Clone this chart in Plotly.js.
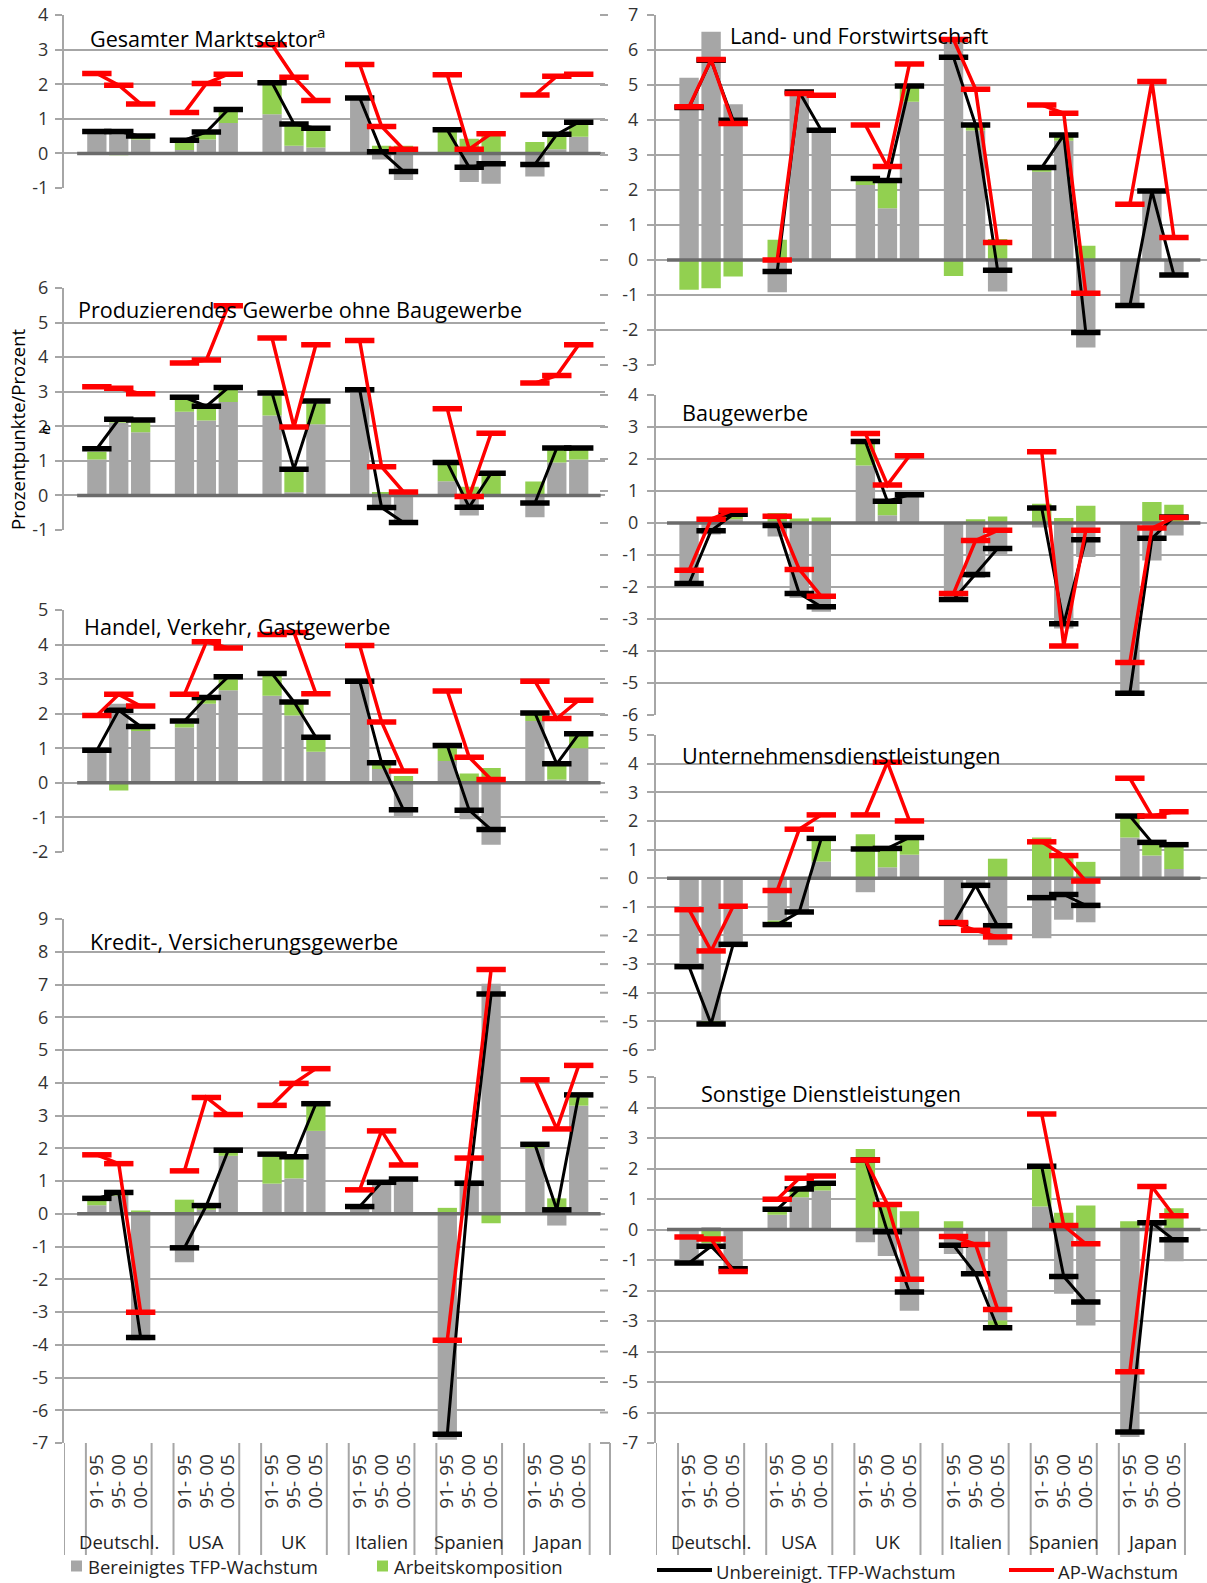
<!DOCTYPE html>
<html><head><meta charset="utf-8">
<script src="https://cdn.plot.ly/plotly-3.0.1.min.js"></script>
<style>html,body{margin:0;padding:0;background:#fff}#chart{width:1207px;height:1583px}</style>
</head><body><div id="chart"></div>
<script>
// ---------- DATA ----------
const countries = ["Deutschl.", "USA", "UK", "Italien", "Spanien", "Japan"];
const periods = ["91- 95", "95- 00", "00- 05"];
const seriesNames = ["Bereinigtes TFP-Wachstum", "Arbeitskomposition", "Unbereinigt. TFP-Wachstum", "AP-Wachstum"];

// Gesamter Marktsektor
const gesamtBereinigt   = [0.58,0.62,0.40, 0.10,0.40,0.88, 1.13,0.22,0.17, 1.55,-0.18,-0.77, 0.02,-0.83,-0.88, -0.67,0.12,0.48];
const gesamtArbeit      = [0.05,-0.05,0.08, 0.25,0.20,0.37, 0.88,0.60,0.53, 0.04,0.22,0.22, 0.63,0.42,0.52, 0.33,0.40,0.37];
const gesamtUnbereinigt = [0.63,0.63,0.50, 0.38,0.62,1.27, 2.04,0.85,0.73, 1.60,0.05,-0.52, 0.68,-0.40,-0.30, -0.32,0.55,0.90];
const gesamtAP          = [2.31,1.97,1.43, 1.18,2.02,2.29, 3.14,2.20,1.53, 2.57,0.78,0.12, 2.27,0.12,0.57, 1.69,2.23,2.29];

// Produzierendes Gewerbe ohne Baugewerbe
const prodBereinigt   = [1.04,2.10,1.83, 2.42,2.17,2.70, 2.31,0.09,2.06, 3.03,-0.42,-0.85, 0.41,-0.58,0.02, -0.63,0.95,1.04];
const prodArbeit      = [0.22,0.06,0.30, 0.38,0.33,0.35, 0.58,0.60,0.60, 0.00,0.10,0.04, 0.49,0.25,0.58, 0.40,0.37,0.30];
const prodUnbereinigt = [1.35,2.20,2.18, 2.84,2.58,3.12, 2.96,0.76,2.73, 3.06,-0.35,-0.78, 0.95,-0.34,0.64, -0.22,1.37,1.37];
const prodAP          = [3.14,3.10,2.94, 3.83,3.92,5.49, 4.55,1.98,4.36, 4.48,0.83,0.10, 2.51,-0.03,1.80, 3.25,3.47,4.36];

// Handel, Verkehr, Gastgewerbe
const handelBereinigt   = [0.88,2.29,1.50, 1.60,2.29,2.68, 2.52,1.95,0.90, 2.87,0.40,-0.99, 0.63,-1.05,-1.79, 1.79,0.10,1.00];
const handelArbeit      = [0.03,-0.22,0.10, 0.12,0.13,0.32, 0.58,0.35,0.38, 0.03,0.12,0.20, 0.42,0.27,0.43, 0.19,0.40,0.37];
const handelUnbereinigt = [0.94,2.10,1.63, 1.79,2.47,3.07, 3.16,2.34,1.32, 2.94,0.58,-0.78, 1.08,-0.79,-1.35, 2.02,0.55,1.42];
const handelAP          = [1.95,2.56,2.22, 2.56,4.08,3.90, 4.29,4.35,2.58, 3.97,1.76,0.34, 2.66,0.74,0.10, 2.94,1.86,2.39];

// Kredit-, Versicherungsgewerbe
const kreditBereinigt   = [0.26,0.55,-3.86, -1.48,0.12,1.77, 0.92,1.08,2.53, 0.15,0.92,1.02, -6.90,0.88,7.02, 2.00,-0.36,3.30];
const kreditArbeit      = [0.17,0.07,0.10, 0.43,0.12,0.16, 0.83,0.60,0.77, 0.06,0.03,0.03, 0.18,0.05,-0.29, 0.08,0.47,0.25];
const kreditUnbereinigt = [0.47,0.65,-3.78, -1.04,0.25,1.94, 1.82,1.74,3.36, 0.22,0.96,1.06, -6.73,0.93,6.71, 2.12,0.12,3.63];
const kreditAP          = [1.80,1.53,-3.01, 1.31,3.55,3.03, 3.31,3.98,4.43, 0.73,2.53,1.49, -3.86,1.70,7.46, 4.09,2.59,4.53];

// Land- und Forstwirtschaft
const landBereinigt   = [5.21,6.52,4.45, -0.92,4.78,3.64, 2.14,1.48,4.52, 6.30,3.70,-0.90, 2.52,3.41,-2.50, -1.29,1.97,-0.43];
const landArbeit      = [-0.85,-0.81,-0.47, 0.58,0.02,0.06, 0.17,0.75,0.40, -0.46,0.12,0.60, 0.08,0.12,0.41, 0.00,-0.02,0.00];
const landUnbereinigt = [4.36,5.71,3.99, -0.33,4.80,3.71, 2.33,2.27,4.97, 5.79,3.86,-0.29, 2.64,3.57,-2.07, -1.30,1.97,-0.43];
const landAP          = [4.38,5.73,3.90, 0.00,4.76,4.71, 3.86,2.67,5.60, 6.30,4.88,0.50, 4.43,4.19,-0.95, 1.59,5.10,0.64];

// Baugewerbe
const bauBereinigt   = [-1.98,-0.36,0.12, -0.42,-2.34,-2.77, 1.80,0.24,0.90, -2.42,-1.72,-0.99, -0.14,-3.30,-1.06, -5.38,-1.17,-0.39];
const bauArbeit      = [0.02,0.12,0.18, 0.31,0.14,0.17, 0.70,0.38,0.00, 0.02,0.12,0.20, 0.60,0.16,0.54, 0.02,0.66,0.57];
const bauUnbereinigt = [-1.89,-0.24,0.27, -0.08,-2.20,-2.62, 2.55,0.68,0.88, -2.39,-1.61,-0.80, 0.47,-3.15,-0.52, -5.32,-0.48,0.19];
const bauAP          = [-1.48,0.12,0.40, 0.21,-1.45,-2.29, 2.80,1.19,2.10, -2.20,-0.55,-0.23, 2.23,-3.84,-0.23, -4.36,-0.16,0.17];

// Unternehmensdienstleistungen
const untBereinigt   = [-3.03,-4.99,-2.24, -1.48,-1.20,0.58, -0.49,0.38,0.82, -1.58,-0.28,-2.34, -2.10,-1.45,-1.54, 1.42,0.79,0.32];
const untArbeit      = [-0.05,-0.10,-0.07, -0.10,0.00,0.75, 1.53,0.62,0.55, 0.00,0.02,0.68, 1.42,0.85,0.57, 0.70,0.43,0.80];
const untUnbereinigt = [-3.09,-5.09,-2.31, -1.62,-1.18,1.39, 1.02,1.04,1.42, -1.58,-0.25,-1.66, -0.68,-0.57,-0.95, 2.17,1.25,1.17];
const untAP          = [-1.10,-2.54,-0.98, -0.43,1.71,2.21, 2.21,4.05,2.00, -1.55,-1.82,-2.05, 1.27,0.79,-0.10, 3.49,2.17,2.32];

// Sonstige Dienstleistungen
const sonstBereinigt   = [-1.10,0.07,-1.34, 0.48,1.06,1.28, -0.42,-0.87,-2.66, -0.80,-1.45,-2.98, 0.75,-2.11,-3.15, -6.80,0.20,-1.04];
const sonstArbeit      = [0.00,-0.45,0.00, 0.12,0.20,0.17, 2.64,0.82,0.60, 0.27,0.00,-0.22, 1.30,0.55,0.79, 0.27,0.02,0.70];
const sonstUnbereinigt = [-1.10,-0.55,-1.29, 0.66,1.33,1.52, 2.28,-0.07,-2.05, -0.52,-1.45,-3.22, 2.07,-1.54,-2.38, -6.64,0.22,-0.34];
const sonstAP          = [-0.25,-0.31,-1.38, 0.99,1.68,1.75, 2.28,0.82,-1.63, -0.23,-0.49,-2.62, 3.79,0.13,-0.47, -4.66,1.41,0.45];

// ---------- LAYOUT / STYLE ----------
const W = 1207, H = 1583;
const FONT = "'Open Sans', sans-serif";
const GREY = '#A6A6A6', GREEN = '#92D050', GRID = '#A6A6A6';
const px = v => v / W;
const py = v => 1 - v / H;

const panels = [
  {title:'Gesamter Marktsektor<sup>a</sup>', d:[gesamtBereinigt,gesamtArbeit,gesamtUnbereinigt,gesamtAP], yr:[-1,4], top:15, bottom:188, col:0, tx:88, ty:37},
  {title:'Produzierendes Gewerbe ohne Baugewerbe', d:[prodBereinigt,prodArbeit,prodUnbereinigt,prodAP], yr:[-1,6], top:288, bottom:530, col:0, tx:76, ty:309},
  {title:'Handel, Verkehr, Gastgewerbe', d:[handelBereinigt,handelArbeit,handelUnbereinigt,handelAP], yr:[-2,5], top:610, bottom:852, col:0, tx:82, ty:627},
  {title:'Kredit-, Versicherungsgewerbe', d:[kreditBereinigt,kreditArbeit,kreditUnbereinigt,kreditAP], yr:[-7,9], top:919, bottom:1443, col:0, tx:88, ty:941, bottomAxis:true},
  {title:'Land- und Forstwirtschaft', d:[landBereinigt,landArbeit,landUnbereinigt,landAP], yr:[-3,7], top:15, bottom:365, col:1, tx:728, ty:36},
  {title:'Baugewerbe', d:[bauBereinigt,bauArbeit,bauUnbereinigt,bauAP], yr:[-6,4], top:395, bottom:715, col:1, tx:680, ty:413},
  {title:'Unternehmensdienstleistungen', d:[untBereinigt,untArbeit,untUnbereinigt,untAP], yr:[-6,5], top:735, bottom:1050, col:1, tx:680, ty:755},
  {title:'Sonstige Dienstleistungen', d:[sonstBereinigt,sonstArbeit,sonstUnbereinigt,sonstAP], yr:[-7,5], top:1077, bottom:1443, col:1, tx:699, ty:1093, bottomAxis:true}
];
const cols = [
  {x0:64, x1:605, range:[-0.5, 24.2], zero:[0.1, 24.0], standoff:3},
  {x0:656, x1:1207, range:[-0.5, 24.5], zero:[0.0, 24.2], standoff:5}
];

// slot positions: each country = blank slot + 3 period slots
const slotOf = i => 4 * Math.floor(i / 3) + 1 + (i % 3);
const barX = countries.flatMap((c, ci) => periods.map((p, pi) => slotOf(ci * 3 + pi)));
function gapped(vals) {
  const xs = [], ys = [];
  countries.forEach((c, ci) => {
    for (let pi = 0; pi < 3; pi++) { xs.push(slotOf(ci*3+pi)); ys.push(vals[ci*3+pi]); }
    xs.push(4*ci + 4); ys.push(null);
  });
  return {xs, ys};
}

const traces = [];
const layout = {
  width: W, height: H, autosize: false,
  margin: {l:0, r:0, t:0, b:0},
  paper_bgcolor: '#fff', plot_bgcolor: '#fff',
  font: {family: FONT, color: '#222'},
  barmode: 'relative', bargap: 0.12,
  showlegend: false,
  shapes: [], annotations: []
};

panels.forEach((P, k) => {
  const n = k + 1;
  const xa = n === 1 ? 'x' : 'x' + n, ya = n === 1 ? 'y' : 'y' + n;
  const C = cols[P.col];
  const eps = 0.01;
  const unit = (P.bottom - P.top) / (P.yr[1] - P.yr[0]);
  const tickVals = [];
  for (let v = P.yr[0]; v <= P.yr[1]; v++) tickVals.push(v);

  const xax = {
    domain: [px(C.x0), px(C.x1)], range: C.range, anchor: ya,
    showgrid: false, zeroline: false, showline: false, fixedrange: true,
    ticks: '', showticklabels: false
  };
  if (P.bottomAxis) {
    Object.assign(xax, {tickvals: barX, ticktext: countries.flatMap(() => periods),
      tickangle: -90, showticklabels: true, ticklabelstandoff: 6,
      tickfont: {family: FONT, size: 19, color: '#333'}});
  }
  layout['xaxis' + (n === 1 ? '' : n)] = xax;
  layout['yaxis' + (n === 1 ? '' : n)] = {
    domain: [py(P.bottom + eps*unit), py(P.top - eps*unit)],
    range: [P.yr[0] - eps, P.yr[1] + eps], anchor: xa,
    tickvals: tickVals, ticktext: tickVals.map(String),
    showgrid: true, gridcolor: GRID, gridwidth: 2, zeroline: false,
    showline: true, linecolor: GRID, linewidth: 2,
    ticks: 'outside', ticklen: 7, tickwidth: 2, tickcolor: GRID, ticklabelstandoff: C.standoff,
    tickfont: {family: FONT, size: 18, color: '#333'}, fixedrange: true
  };

  traces.push({type:'bar', x: barX, y: P.d[0], xaxis: xa, yaxis: ya, name: seriesNames[0],
               marker: {color: GREY, line: {width: 0}}, hoverinfo: 'y'});
  traces.push({type:'bar', x: barX, y: P.d[1], xaxis: xa, yaxis: ya, name: seriesNames[1],
               marker: {color: GREEN, line: {width: 0}}, hoverinfo: 'y'});
  // zero baseline
  traces.push({type:'scatter', mode:'lines', x: C.zero, y: [0, 0], xaxis: xa, yaxis: ya,
               line: {color: '#6b6b6b', width: 3.5}, hoverinfo: 'skip'});
  const b = gapped(P.d[2]), r = gapped(P.d[3]);
  traces.push({type:'scatter', mode:'lines+markers', x: b.xs, y: b.ys, xaxis: xa, yaxis: ya, name: seriesNames[2],
               connectgaps: false, line: {color: '#000', width: 3},
               marker: {symbol: 'line-ew', size: 21, line: {width: 5.5, color: '#000'}}});
  traces.push({type:'scatter', mode:'lines+markers', x: r.xs, y: r.ys, xaxis: xa, yaxis: ya, name: seriesNames[3],
               connectgaps: false, line: {color: '#FF0000', width: 3.5},
               marker: {symbol: 'line-ew', size: 21, line: {width: 5.5, color: '#FF0000'}}});

  layout.annotations.push({text: P.title, xref: 'paper', yref: 'paper', x: px(P.tx), y: py(P.ty),
    xanchor: 'left', yanchor: 'middle', showarrow: false, font: {family: FONT, size: 21.6, color: '#000'}});

  if (P.bottomAxis) {
    const sepVals = [];
    countries.forEach((c, ci) => { sepVals.push(4*ci - 0.5, 4*ci + 0.5); });
    sepVals.push(23.5);
    sepVals.forEach(v => layout.shapes.push({type:'line', xref: xa, yref:'paper', x0: v, x1: v,
      y0: py(1443), y1: py(1555), line: {color: GRID, width: 2}}));
    countries.forEach((c, ci) => layout.annotations.push({text: c, xref: xa, yref: 'paper',
      x: 4*ci + 2, y: py(1541), xanchor: 'center', yanchor: 'middle', showarrow: false,
      font: {family: FONT, size: 18.5, color: '#222'}}));
  }
  if (P.col === 1) {
    tickVals.forEach(v => {
      const yy = P.top + (P.yr[1] - v) * unit;
      layout.shapes.push({type:'line', xref:'paper', yref:'paper', x0: px(600), x1: px(608),
        y0: py(yy), y1: py(yy), line: {color: GRID, width: 2}});
    });
  }
});

// stray axis fragment between the columns at the bottom
layout.shapes.push({type:'line', xref:'paper', yref:'paper', x0:px(610), x1:px(610), y0:py(1443), y1:py(1555), line:{color:GRID, width:2}});
layout.shapes.push({type:'line', xref:'paper', yref:'paper', x0:px(600), x1:px(610), y0:py(1443), y1:py(1443), line:{color:GRID, width:2}});

// y-axis title and stray superscript
layout.annotations.push({text: 'Prozentpunkte/Prozent', xref:'paper', yref:'paper', x: px(18), y: py(429),
  xanchor:'center', yanchor:'middle', textangle: -90, showarrow:false, font:{family: FONT, size: 18.5, color:'#000'}});
layout.annotations.push({text: 'e', xref:'paper', yref:'paper', x: px(46), y: py(428),
  xanchor:'center', yanchor:'middle', showarrow:false, font:{family: FONT, size: 16, color:'#000'}});

// manual legend
const legendItems = [
  {kind:'box', color: GREY, x: 71, y: 1566, text: seriesNames[0], tx: 86},
  {kind:'box', color: GREEN, x: 377, y: 1566, text: seriesNames[1], tx: 392},
  {kind:'line', color: '#000', x: 657, x2: 712, y: 1570, text: seriesNames[2], tx: 714},
  {kind:'line', color: '#FF0000', x: 1009, x2: 1054, y: 1570, text: seriesNames[3], tx: 1056}
];
legendItems.forEach(it => {
  if (it.kind === 'box') {
    layout.shapes.push({type:'rect', xref:'paper', yref:'paper', x0: px(it.x), x1: px(it.x + 11),
      y0: py(it.y + 5.5), y1: py(it.y - 5.5), fillcolor: it.color, line: {width: 0}});
  } else {
    layout.shapes.push({type:'line', xref:'paper', yref:'paper', x0: px(it.x), x1: px(it.x2),
      y0: py(it.y), y1: py(it.y), line: {color: it.color, width: 4}});
  }
  layout.annotations.push({text: it.text, xref:'paper', yref:'paper', x: px(it.tx), y: py(it.kind === 'box' ? it.y : it.y + 1),
    xanchor:'left', yanchor:'middle', showarrow:false, font:{family: FONT, size: 18.5, color:'#222'}});
});

Plotly.newPlot('chart', traces, layout, {staticPlot: true, displayModeBar: false});
</script></body></html>
